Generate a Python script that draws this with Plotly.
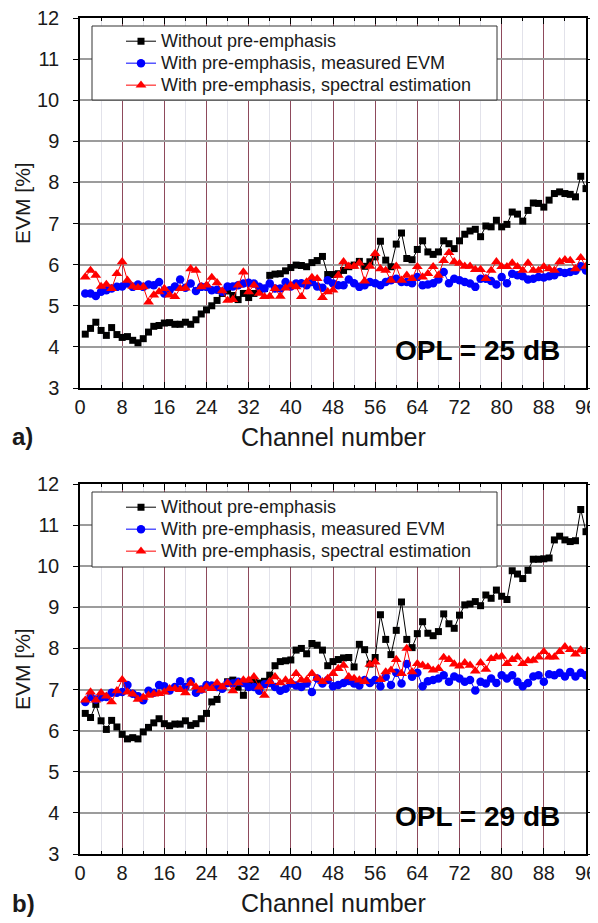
import plotly.graph_objects as go

channels = list(range(1, 97))

series_names = [
    "Without pre-emphasis",
    "With pre-emphasis, measured EVM",
    "With pre-emphasis, spectral estimation",
]

# ---- a) OPL = 25 dB ----
top_without = [
    4.31, 4.45, 4.60, 4.40, 4.28, 4.47, 4.30, 4.23, 4.25, 4.16,
    4.10, 4.20, 4.36, 4.50, 4.52, 4.58, 4.59, 4.55, 4.55, 4.60,
    4.55, 4.66, 4.80, 4.90, 5.00, 5.13, 5.30, 5.36, 5.25, 5.15,
    5.30, 5.20, 5.30, 5.35, 5.42, 5.74, 5.77, 5.78, 5.85, 5.93,
    5.99, 5.98, 5.95, 6.05, 6.10, 6.20, 5.76, 5.76, 5.78, 5.86,
    5.95, 5.99, 6.08, 5.96, 6.07, 6.19, 6.57, 6.11, 5.95, 6.50,
    6.77, 6.15, 6.12, 6.37, 6.58, 6.31, 6.25, 6.31, 6.58, 6.51,
    6.39, 6.58, 6.74, 6.82, 6.86, 6.68, 6.94, 6.92, 7.08, 6.92,
    6.98, 7.28, 7.23, 7.06, 7.32, 7.50, 7.49, 7.40, 7.57, 7.73,
    7.77, 7.73, 7.71, 7.65, 8.15, 7.85,
]
top_measured = [
    5.30, 5.30, 5.24, 5.34, 5.38, 5.42, 5.46, 5.47, 5.54, 5.46,
    5.52, 5.46, 5.52, 5.50, 5.58, 5.30, 5.38, 5.47, 5.64, 5.44,
    5.54, 5.36, 5.46, 5.46, 5.38, 5.39, 5.34, 5.47, 5.47, 5.50,
    5.54, 5.56, 5.54, 5.46, 5.42, 5.54, 5.42, 5.42, 5.58, 5.47,
    5.54, 5.55, 5.50, 5.58, 5.47, 5.44, 5.62, 5.54, 5.50, 5.50,
    5.64, 5.55, 5.46, 5.50, 5.58, 5.55, 5.50, 5.58, 5.62, 5.66,
    5.58, 5.58, 5.55, 5.70, 5.50, 5.52, 5.55, 5.64, 5.82, 5.55,
    5.66, 5.62, 5.58, 5.54, 5.46, 5.66, 5.66, 5.60, 5.52, 5.70,
    5.55, 5.78, 5.74, 5.72, 5.64, 5.66, 5.70, 5.69, 5.72, 5.74,
    5.82, 5.80, 5.82, 5.85, 5.96, 5.86,
]
top_spectral = [
    5.70, 5.86, 5.74, 5.47, 5.52, 5.42, 5.78, 6.07, 5.62, 5.47,
    5.44, 5.46, 5.09, 5.26, 5.34, 5.42, 5.26, 5.22, 5.42, 5.43,
    5.90, 5.86, 5.46, 5.50, 5.69, 5.56, 5.36, 5.13, 5.15, 5.50,
    5.82, 5.34, 5.50, 5.30, 5.22, 5.23, 5.42, 5.23, 5.43, 5.50,
    5.46, 5.22, 5.58, 5.69, 5.66, 5.20, 5.34, 5.38, 5.74, 6.07,
    5.96, 5.96, 6.04, 5.60, 5.96, 6.27, 5.90, 5.86, 5.62, 5.96,
    5.62, 5.74, 5.66, 5.95, 5.70, 5.78, 5.95, 5.74, 6.10, 6.29,
    6.07, 6.03, 5.96, 5.96, 5.88, 5.88, 5.66, 5.86, 6.07, 5.95,
    5.95, 6.04, 5.95, 5.86, 6.04, 5.86, 5.86, 5.95, 5.90, 5.86,
    6.07, 6.12, 6.10, 5.90, 6.17, 5.96,
]

# ---- b) OPL = 29 dB ----
bot_without = [
    6.42, 6.32, 6.64, 6.24, 6.03, 6.25, 6.09, 5.91, 5.80, 5.83,
    5.80, 5.97, 6.08, 6.19, 6.29, 6.17, 6.12, 6.16, 6.16, 6.24,
    6.13, 6.17, 6.29, 6.42, 6.70, 6.76, 7.06, 7.19, 7.23, 7.06,
    6.86, 7.17, 7.20, 7.16, 7.20, 7.35, 7.58, 7.68, 7.70, 7.72,
    7.96, 8.00, 7.87, 8.12, 8.08, 7.96, 7.58, 7.68, 7.73, 7.77,
    7.78, 7.55, 8.10, 7.97, 7.62, 7.78, 8.82, 8.22, 7.85, 8.44,
    9.13, 8.22, 8.02, 8.36, 8.65, 8.37, 8.31, 8.41, 8.84, 8.60,
    8.49, 8.81, 9.06, 9.08, 9.14, 9.04, 9.30, 9.22, 9.42, 9.27,
    9.19, 9.89, 9.81, 9.70, 9.90, 10.17, 10.17, 10.18, 10.20, 10.64,
    10.73, 10.64, 10.60, 10.62, 11.38, 10.84,
]
bot_measured = [
    6.70, 6.82, 6.76, 6.81, 6.82, 6.92, 6.92, 6.94, 7.11, 6.90,
    6.84, 6.74, 6.97, 6.92, 7.11, 7.08, 6.98, 7.06, 7.20, 7.06,
    7.20, 6.92, 7.00, 7.11, 7.10, 7.06, 7.02, 7.16, 7.15, 7.19,
    7.16, 7.06, 7.06, 6.97, 7.13, 7.16, 7.06, 6.97, 7.02, 7.15,
    7.10, 7.06, 7.15, 6.94, 7.27, 7.15, 7.23, 7.08, 7.11, 7.16,
    7.21, 7.15, 7.10, 7.23, 7.16, 7.23, 7.08, 7.31, 7.11, 7.41,
    7.15, 7.62, 7.31, 7.41, 7.08, 7.20, 7.23, 7.27, 7.35, 7.19,
    7.32, 7.27, 7.19, 7.23, 6.98, 7.19, 7.15, 7.27, 7.16, 7.35,
    7.27, 7.35, 7.19, 7.08, 7.16, 7.32, 7.35, 7.19, 7.37, 7.35,
    7.41, 7.32, 7.43, 7.32, 7.41, 7.35,
]
bot_spectral = [
    6.74, 6.94, 6.74, 6.92, 6.84, 6.70, 6.97, 7.24, 6.94, 6.89,
    6.76, 6.81, 6.86, 6.89, 6.90, 6.94, 7.02, 7.02, 7.00, 6.92,
    7.15, 7.06, 6.98, 7.06, 7.02, 7.16, 7.06, 7.16, 6.97, 7.16,
    7.23, 7.23, 7.31, 7.06, 6.86, 7.19, 7.31, 7.16, 7.23, 7.19,
    7.39, 7.23, 7.23, 7.39, 7.27, 7.19, 7.27, 7.39, 7.51, 7.59,
    7.31, 7.27, 7.23, 7.19, 7.61, 7.67, 7.24, 7.43, 7.47, 7.73,
    7.39, 8.00, 7.43, 7.63, 7.59, 7.55, 7.47, 7.51, 7.78, 7.73,
    7.62, 7.57, 7.65, 7.59, 7.45, 7.65, 7.49, 7.75, 7.79, 7.81,
    7.63, 7.73, 7.79, 7.63, 7.70, 7.71, 7.79, 7.92, 7.79, 7.79,
    7.92, 8.04, 7.97, 7.86, 7.96, 7.92,
]

x_ticks = list(range(0, 97, 8))
y_ticks = list(range(3, 13))
panel_labels = ["a)", "b)"]
opl_labels = ["OPL = 25 dB", "OPL = 29 dB"]

# page body has an 8px margin: figure is 590x915 placed at (8, 8)
OFF = 8
W, H = 598 - OFF, 923 - OFF
FONT = "Liberation Sans, Arial, sans-serif"

def px(x):
    return (x - OFF) / W

def py(y):
    return 1 - (y - OFF) / H

styles = [
    dict(color="black", symbol="square", size=7),
    dict(color="#0000ff", symbol="circle", size=8.5),
    dict(color="#ff0000", symbol="triangle-up", size=9.5),
]

panels = [
    dict(data=[top_without, top_measured, top_spectral], xa="x", ya="y",
         legend="legend", top=18, bottom=388, box=(92, 497, 26, 100)),
    dict(data=[bot_without, bot_measured, bot_spectral], xa="x2", ya="y2",
         legend="legend2", top=484, bottom=854, box=(92, 497, 492, 567)),
]

LEGEND_TEXT_PX = 18

fig = go.Figure()
for p in panels:
    for name, vals, st in zip(series_names, p["data"], styles):
        fig.add_trace(go.Scatter(
            x=channels, y=vals,
            name='<span style="font-size:%dpx">%s</span>' % (LEGEND_TEXT_PX, name),
            mode="lines+markers",
            xaxis=p["xa"], yaxis=p["ya"], legend=p["legend"],
            line=dict(color=st["color"], width=1),
            marker=dict(color=st["color"], symbol=st["symbol"], size=st["size"],
                        line=dict(width=0)),
        ))

x_left, x_right = 80, 586
xdom = [px(x_left), px(x_right)]

def xaxis_cfg(anchor):
    return dict(
        domain=xdom, anchor=anchor, range=[0, 96], automargin=False,
        tickmode="array", tickvals=x_ticks, ticktext=[str(v) for v in x_ticks],
        ticks="inside", ticklen=6, tickwidth=1, tickcolor="black",
        ticklabeloverflow="allow",
        showline=True, linecolor="black", linewidth=1.5, mirror="ticks",
        showgrid=True, gridcolor="#8e4a5c", gridwidth=1.2,
        minor=dict(dtick=4, tick0=0, ticks="inside", ticklen=3, tickcolor="black",
                   showgrid=True, gridcolor="#e2e2ea", gridwidth=1),
        zeroline=False,
        tickfont=dict(family=FONT, size=20, color="#1a1a1a"),
    )

def yaxis_cfg(anchor, top, bottom):
    return dict(
        domain=[py(bottom), py(top)], anchor=anchor, range=[3, 12],
        automargin=False,
        tickmode="array", tickvals=y_ticks, ticktext=[str(v) for v in y_ticks],
        ticks="outside", ticklen=5, tickwidth=1, tickcolor="black",
        ticklabelstandoff=10, ticklabeloverflow="allow",
        showline=True, linecolor="black", linewidth=1.5, mirror="ticks",
        showgrid=True, gridcolor="#9c9c9c", gridwidth=1.5,
        zeroline=False,
        tickfont=dict(family=FONT, size=20, color="#1a1a1a"),
    )

def legend_cfg(box):
    x0, x1, y0, y1 = box
    return dict(
        x=px(121), y=py(y0 - 0.8), xanchor="left", yanchor="top",
        bgcolor="rgba(0,0,0,0)", borderwidth=0,
        font=dict(family=FONT, size=14.6, color="#1a1a1a"),
        tracegroupgap=0,
    )

annotations = []
shapes = []
for i, p in enumerate(panels):
    mid = (p["top"] + p["bottom"]) / 2
    x0, x1, y0, y1 = p["box"]
    shapes.append(dict(
        type="rect", xref="paper", yref="paper",
        x0=px(x0), x1=px(x1), y0=py(y1), y1=py(y0),
        line=dict(color="#333333", width=1), fillcolor="white", layer="above"))
    annotations.append(dict(
        text="EVM [%]", x=px(22), y=py(mid), xref="paper", yref="paper",
        textangle=-90, showarrow=False, xanchor="center", yanchor="middle",
        font=dict(family=FONT, size=21, color="#1a1a1a")))
    annotations.append(dict(
        text="Channel number", x=px((x_left + x_right) / 2),
        y=py(p["bottom"] + 49), xref="paper", yref="paper",
        showarrow=False, xanchor="center", yanchor="middle",
        font=dict(family=FONT, size=25, color="#1a1a1a")))
    annotations.append(dict(
        text="<b>%s</b>" % panel_labels[i], x=px(10),
        y=py(p["bottom"] + 49), xref="paper", yref="paper",
        showarrow=False, xanchor="left", yanchor="middle",
        font=dict(family=FONT, size=24, color="#1a1a1a")))
    annotations.append(dict(
        text="<b>%s</b>" % opl_labels[i], x=px(477),
        y=py(p["bottom"] - 38), xref="paper", yref="paper",
        showarrow=False, xanchor="center", yanchor="middle",
        font=dict(family=FONT, size=28, color="black")))

fig.update_layout(
    width=W, height=H,
    margin=dict(l=0, r=0, t=0, b=0, autoexpand=False),
    paper_bgcolor="white", plot_bgcolor="white",
    font=dict(family=FONT, color="#1a1a1a"),
    xaxis=xaxis_cfg("y"), yaxis=yaxis_cfg("x", 18, 388),
    xaxis2=xaxis_cfg("y2"), yaxis2=yaxis_cfg("x2", 484, 854),
    legend=legend_cfg(panels[0]["box"]), legend2=legend_cfg(panels[1]["box"]),
    annotations=annotations, shapes=shapes,
)

fig.write_html("out.html")
